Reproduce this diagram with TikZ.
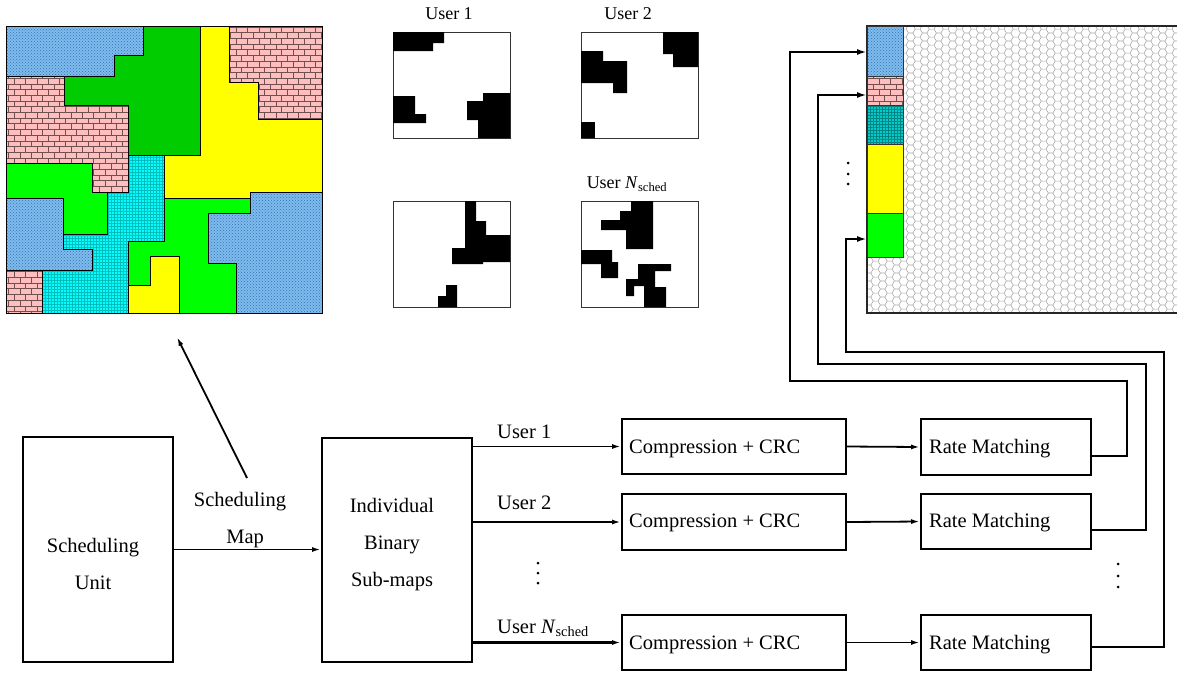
\documentclass[tikz,border=0pt]{standalone}
\usepackage{fontspec}
\setmainfont{Liberation Serif}
\usetikzlibrary{patterns,arrows.meta}
\pgfdeclarepatternformonly{hexgrid}{\pgfpointorigin}{\pgfqpoint{14.4pt}{8.4pt}}{\pgfqpoint{14.4pt}{8.4pt}}{%
  \pgfsetlinewidth{0.6pt}%
  \pgfpathmoveto{\pgfqpoint{0pt}{4.2pt}}%
  \pgfpathlineto{\pgfqpoint{2.4pt}{8.4pt}}%
  \pgfpathlineto{\pgfqpoint{7.2pt}{8.4pt}}%
  \pgfpathlineto{\pgfqpoint{9.6pt}{4.2pt}}%
  \pgfpathlineto{\pgfqpoint{7.2pt}{0pt}}%
  \pgfpathlineto{\pgfqpoint{2.4pt}{0pt}}%
  \pgfpathclose
  \pgfpathmoveto{\pgfqpoint{9.6pt}{4.2pt}}%
  \pgfpathlineto{\pgfqpoint{14.4pt}{4.2pt}}%
  \pgfusepath{stroke}}
\definecolor{mapblue}{RGB}{125,188,238}
\definecolor{mapbluep}{RGB}{60,110,170}
\definecolor{mappink}{RGB}{255,190,190}
\definecolor{mappinkp}{RGB}{110,80,80}
\definecolor{mapcyan}{RGB}{0,255,255}
\definecolor{mapcyanp}{RGB}{0,190,190}
\definecolor{stcyan}{RGB}{0,204,204}
\definecolor{dgreen}{RGB}{0,204,0}
\definecolor{lgreen}{RGB}{0,255,0}
\definecolor{myyellow}{RGB}{255,255,0}
\tikzset{
  reg/.style={draw=black, line width=0.9pt},
  blueR/.style={reg, preaction={fill=mapblue}, pattern=crosshatch dots, pattern color=mapbluep},
  pinkR/.style={reg, preaction={fill=mappink}, pattern=bricks, pattern color=mappinkp},
  cyanR/.style={reg, preaction={fill=mapcyan}, pattern=grid, pattern color=mapcyanp},
  dgreenR/.style={reg, fill=dgreen},
  lgreenR/.style={reg, fill=lgreen},
  yellowR/.style={reg, fill=myyellow},
  umap/.style={draw=black!80, line width=1pt, minimum width=117pt, minimum height=106pt, inner sep=0pt},
  blk/.style={draw=black, line width=2pt, inner sep=0pt},
  txt/.style={font=\fontsize{20.5}{37}\selectfont, align=center, inner sep=0pt},
  small/.style={font=\fontsize{18}{22}\selectfont, inner sep=0pt},
  arr/.style={line width=1.8pt, -{Latex[length=9pt,width=5pt]}},
  tharr/.style={line width=2.8pt, -{Latex[length=9pt,width=5pt]}},
  fb/.style={line width=2pt, -{Latex[length=10pt,width=6pt]}},
  fbthick/.style={line width=2.6pt, -{Latex[length=10pt,width=6pt]}},
  seg/.style={draw=black!80, line width=1pt, minimum width=36pt, inner sep=0pt, anchor=north west},
  dot/.style={circle, fill=black, inner sep=0pt, minimum size=3pt}
}
\begin{document}
\begin{tikzpicture}[x=1pt,y=-1pt]
\useasboundingbox (0,0) rectangle (1177,673);

% ---------- scheduling map ----------
\path[blueR] (6,26)--(143,26)--(143,55)--(114,55)--(114,76)--(6,76)--cycle;
\path[dgreenR] (143,26)--(200,26)--(200,155)--(128,155)--(128,105)--(64,105)--(64,76)--(114,76)--(114,55)--(143,55)--cycle;
\path[pinkR] (6,76)--(64,76)--(64,105)--(128,105)--(128,192)--(92,192)--(92,163)--(6,163)--cycle;
\path[lgreenR] (6,163)--(92,163)--(92,192)--(107,192)--(107,234)--(63,234)--(63,198)--(6,198)--cycle;
\path[blueR] (6,198)--(63,198)--(63,249)--(92,249)--(92,270)--(6,270)--cycle;
\path[pinkR] (6,270)--(42,270)--(42,313)--(6,313)--cycle;
\path[cyanR] (128,155)--(164,155)--(164,241)--(128,241)--(128,313)--(42,313)--(42,270)--(92,270)--(92,249)--(63,249)--(63,234)--(107,234)--(107,192)--(128,192)--cycle;
\path[yellowR] (200,26)--(229,26)--(229,82)--(258,82)--(258,119)--(322,119)--(322,192)--(250,192)--(250,198)--(164,198)--(164,155)--(200,155)--cycle;
\path[pinkR] (229,26)--(322,26)--(322,119)--(258,119)--(258,82)--(229,82)--cycle;
\path[lgreenR] (164,198)--(250,198)--(250,213)--(208,213)--(208,263)--(236,263)--(236,313)--(179,313)--(179,256)--(150,256)--(150,285)--(128,285)--(128,241)--(164,241)--cycle;
\path[yellowR] (128,285)--(150,285)--(150,256)--(179,256)--(179,313)--(128,313)--cycle;
\path[blueR] (250,192)--(322,192)--(322,313)--(236,313)--(236,263)--(208,263)--(208,213)--(250,213)--cycle;
\node[draw=black, line width=1.4pt, minimum width=316pt, minimum height=287pt, inner sep=0pt, anchor=north west] (map) at (6,26) {};

% ---------- user maps ----------
\node[small] (l1) at (449,14) {User 1};
\node[small] (l2) at (628,14) {User 2};
\node[small] (l4) at (627,184) {User \textit{N}\textsubscript{sched}};
\node[umap, anchor=north west] (u1) at (393,32) {};
\node[umap, anchor=north west] (u2) at (581,32) {};
\node[umap, anchor=north west] (u3) at (393,201) {};
\node[umap, anchor=north west] (u4) at (581,201) {};
% user 1
\fill (393,32)--(444,32)--(444,43)--(433,43)--(433,51)--(393,51)--cycle;
\fill (393,96)--(415,96)--(415,114)--(426,114)--(426,123)--(393,123)--cycle;
\fill (483,93)--(510,93)--(510,138)--(478,138)--(478,120)--(467,120)--(467,101)--(483,101)--cycle;
% user 2
\fill (663,32)--(698,32)--(698,67)--(673,67)--(673,54)--(663,54)--cycle;
\fill (581,51)--(603,51)--(603,61)--(627,61)--(627,93)--(613,93)--(613,83)--(581,83)--cycle;
\fill (581,122)--(595,122)--(595,138)--(581,138)--cycle;
% user 3
\fill (465,201)--(476,201)--(476,221)--(486,221)--(486,235)--(510,235)--(510,262)--(483,262)--(483,264)--(452,264)--(452,248)--(465,248)--cycle;
\fill (446,285)--(457,285)--(457,307)--(438,307)--(438,296)--(446,296)--cycle;
% user N
\fill (631,201)--(653,201)--(653,249)--(626,249)--(626,230)--(601,230)--(601,220)--(620,220)--(620,211)--(631,211)--cycle;
\fill (581,250)--(612,250)--(612,262)--(618,262)--(618,278)--(601,278)--(601,264)--(581,264)--cycle;
\fill (638,264)--(671,264)--(671,271)--(655,271)--(655,287)--(666,287)--(666,307)--(644,307)--(644,286)--(634,286)--(634,296)--(626,296)--(626,279)--(638,279)--cycle;

% ---------- resource grid ----------
\path[pattern=hexgrid, pattern color=black!35] (867,26) rectangle (1177,313);
\draw[black!85, line width=1.2pt] (1180,26) -- (867,26) -- (867,313) -- (1180,313);
\node[seg, minimum height=50pt, preaction={fill=mapblue}, pattern=crosshatch dots, pattern color=mapbluep] (s1) at (867,26) {};
\node[seg, minimum height=29pt, preaction={fill=mappink}, pattern=bricks, pattern color=mappinkp] (s2) at (867,76) {};
\node[seg, minimum height=39pt, preaction={fill=stcyan}, pattern=grid, pattern color=mapcyanp!70!black] (s3) at (867,105) {};
\node[seg, minimum height=69pt, fill=myyellow] (s4) at (867,144) {};
\node[seg, minimum height=44pt, fill=lgreen] (s5) at (867,213) {};
\node[dot] (d1) at (848,163) {};
\node[dot] (d2) at (848,174) {};
\node[dot] (d3) at (848,184) {};

% ---------- block diagram ----------
\node[blk, minimum width=150pt, minimum height=225pt] (su) at (98,549.5) {};
\node[txt] (sut) at (93,564) {Scheduling\\Unit};
\node[blk, minimum width=150pt, minimum height=224pt] (ib) at (397,549.5) {};
\node[txt] (ibt) at (392,545) {Individual\\Binary\\Sub-maps};
\node[txt] (smt) at (240,520) {Scheduling\\\ \ Map};
\draw[arr] (su.east) -- (ib.west);
\coordinate (mfrom) at (247,478);
\coordinate (mto) at (177,337);
\draw[arr] (mfrom) -- (mto);

\node[blk, minimum width=224pt, minimum height=55pt] (c1) at (734,446.5) {};
\node[blk, minimum width=224pt, minimum height=56pt] (c2) at (734,522) {};
\node[blk, minimum width=224pt, minimum height=55pt] (c3) at (734,642.5) {};
\node[txt, anchor=west] (c1t) at (629,449) {Compression + CRC};
\node[txt, anchor=west] (c2t) at (629,523) {Compression + CRC};
\node[txt, anchor=west] (c3t) at (629,645) {Compression + CRC};

\node[blk, minimum width=170pt, minimum height=56pt] (r1) at (1006,447) {};
\node[blk, minimum width=170pt, minimum height=55pt] (r2) at (1006,521.5) {};
\node[blk, minimum width=170pt, minimum height=55pt] (r3) at (1006,642.5) {};
\node[txt, anchor=west] (r1t) at (929,449) {Rate Matching};
\node[txt, anchor=west] (r2t) at (929,523) {Rate Matching};
\node[txt, anchor=west] (r3t) at (929,645) {Rate Matching};

\draw[arr] (ib.east |- c1.west) -- (c1.west);
\draw[arr] (ib.east |- c2.west) -- (c2.west);
\draw[tharr] (ib.east |- c3.west) -- (c3.west);
\node[txt, anchor=west] (ul1) at (497,432) {User 1};
\node[txt, anchor=west] (ul2) at (497,503) {User 2};
\node[txt, anchor=west] (ul3) at (497,628) {User \textit{N}\textsubscript{sched}};
\node[dot] (e1) at (538,563) {};
\node[dot] (e2) at (538,573) {};
\node[dot] (e3) at (538,583) {};

\draw[arr] (c1.east) -- (r1.west);
\draw[arr] (c2.east) -- (r2.west);
\draw[arr] (c3.east) -- (r3.west);
\node[dot] (f1) at (1118,564) {};
\node[dot] (f2) at (1118,576) {};
\node[dot] (f3) at (1118,587) {};

% ---------- feedback to grid ----------
\draw[fbthick] ([yshift=-9pt]r1.east) -| (1127,381) -| (790,52) -- (s1.west |- 790,52);
\draw[fb] ([yshift=-8.5pt]r2.east) -| (1146,364) -| (818,95) -- (s2.west |- 818,95);
\draw[fbthick] ([yshift=-4.5pt]r3.east) -| (1164,352) -| (846,239) -- (s5.west |- 846,239);
\end{tikzpicture}
\end{document}
